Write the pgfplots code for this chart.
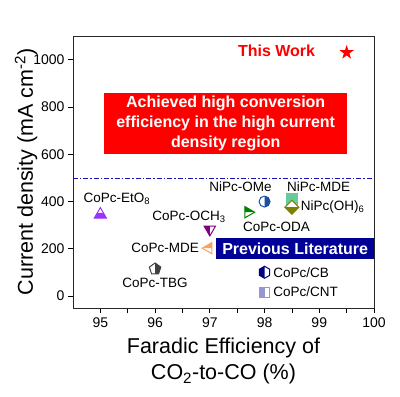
\documentclass[border=0pt]{standalone}
\usepackage{fontspec}
\setmainfont{Liberation Sans}
\usepackage{pgfplots}
\pgfplotsset{compat=1.18}

\definecolor{cEtO}{RGB}{153,51,255}
\definecolor{cOCH}{RGB}{128,0,128}
\definecolor{cMDE}{RGB}{244,164,96}
\definecolor{cTBG}{RGB}{64,64,64}
\definecolor{cODA}{RGB}{0,128,0}
\definecolor{cOMe}{RGB}{30,80,160}
\definecolor{cNMDE}{RGB}{102,204,153}
\definecolor{cOH}{RGB}{128,128,0}
\definecolor{cCB}{RGB}{0,0,128}
\definecolor{cCNT}{RGB}{150,150,210}
\definecolor{cRed}{RGB}{255,0,0}
\definecolor{cNavy}{RGB}{0,0,150}
\definecolor{cLine}{RGB}{20,20,180}

\newcommand{\mkP}[2]{\pgfqpoint{#1\pgfplotmarksize}{#2\pgfplotmarksize}}
\newcommand{\halfmark}[2]{%
  \begin{pgfscope}\pgfsetfillcolor{white}#1\pgfusepathqfill\end{pgfscope}%
  #2\pgfusepathqfill
  #1\pgfusepathqstroke}

\pgfdeclareplotmark{htriup}{\halfmark
 {\pgfpathmoveto{\mkP{0}{1}}\pgfpathlineto{\mkP{-0.866}{-0.5}}\pgfpathlineto{\mkP{0.866}{-0.5}}\pgfpathclose}
 {\pgfpathmoveto{\mkP{-0.866}{-0.5}}\pgfpathlineto{\mkP{0.866}{-0.5}}\pgfpathlineto{\mkP{0.433}{0.25}}\pgfpathlineto{\mkP{-0.433}{0.25}}\pgfpathclose}}
\pgfdeclareplotmark{htridown}{\halfmark
 {\pgfpathmoveto{\mkP{0}{-1}}\pgfpathlineto{\mkP{-0.866}{0.5}}\pgfpathlineto{\mkP{0.866}{0.5}}\pgfpathclose}
 {\pgfpathmoveto{\mkP{0}{-1}}\pgfpathlineto{\mkP{-0.866}{0.5}}\pgfpathlineto{\mkP{0}{0.5}}\pgfpathclose}}
\pgfdeclareplotmark{htrileft}{\halfmark
 {\pgfpathmoveto{\mkP{-1}{0}}\pgfpathlineto{\mkP{0.5}{0.866}}\pgfpathlineto{\mkP{0.5}{-0.866}}\pgfpathclose}
 {\pgfpathmoveto{\mkP{-1}{0}}\pgfpathlineto{\mkP{0.5}{0.866}}\pgfpathlineto{\mkP{0.5}{0}}\pgfpathclose}}
\pgfdeclareplotmark{htriright}{\halfmark
 {\pgfpathmoveto{\mkP{1}{0}}\pgfpathlineto{\mkP{-0.5}{0.866}}\pgfpathlineto{\mkP{-0.5}{-0.866}}\pgfpathclose}
 {\pgfpathmoveto{\mkP{1}{0}}\pgfpathlineto{\mkP{-0.5}{0.866}}\pgfpathlineto{\mkP{-0.5}{0}}\pgfpathclose}}
\pgfdeclareplotmark{hpent}{\halfmark
 {\pgfpathmoveto{\mkP{0}{1}}\pgfpathlineto{\mkP{-0.951}{0.309}}\pgfpathlineto{\mkP{-0.588}{-0.809}}\pgfpathlineto{\mkP{0.588}{-0.809}}\pgfpathlineto{\mkP{0.951}{0.309}}\pgfpathclose}
 {\pgfpathmoveto{\mkP{0}{1}}\pgfpathlineto{\mkP{0}{-0.809}}\pgfpathlineto{\mkP{0.588}{-0.809}}\pgfpathlineto{\mkP{0.951}{0.309}}\pgfpathclose}}
\pgfdeclareplotmark{hcirc}{\halfmark
 {\pgfpathcircle{\pgfpointorigin}{\pgfplotmarksize}}
 {\pgfpathmoveto{\mkP{0}{1}}\pgfpatharc{90}{-90}{\pgfplotmarksize}\pgfpathclose}}
\pgfdeclareplotmark{hdiam}{\halfmark
 {\pgfpathmoveto{\mkP{0}{1}}\pgfpathlineto{\mkP{-1}{0}}\pgfpathlineto{\mkP{0}{-1}}\pgfpathlineto{\mkP{1}{0}}\pgfpathclose}
 {\pgfpathmoveto{\mkP{-1}{0}}\pgfpathlineto{\mkP{0}{-1}}\pgfpathlineto{\mkP{1}{0}}\pgfpathclose}}
\pgfdeclareplotmark{hhex}{\halfmark
 {\pgfpathmoveto{\mkP{0.866}{0.5}}\pgfpathlineto{\mkP{0}{1}}\pgfpathlineto{\mkP{-0.866}{0.5}}\pgfpathlineto{\mkP{-0.866}{-0.5}}\pgfpathlineto{\mkP{0}{-1}}\pgfpathlineto{\mkP{0.866}{-0.5}}\pgfpathclose}
 {\pgfpathmoveto{\mkP{0}{1}}\pgfpathlineto{\mkP{-0.866}{0.5}}\pgfpathlineto{\mkP{-0.866}{-0.5}}\pgfpathlineto{\mkP{0}{-1}}\pgfpathclose}}
\pgfdeclareplotmark{hsqleft}{\halfmark
 {\pgfpathmoveto{\mkP{-1}{-1}}\pgfpathlineto{\mkP{1}{-1}}\pgfpathlineto{\mkP{1}{1}}\pgfpathlineto{\mkP{-1}{1}}\pgfpathclose}
 {\pgfpathmoveto{\mkP{-1}{-1}}\pgfpathlineto{\mkP{0}{-1}}\pgfpathlineto{\mkP{0}{1}}\pgfpathlineto{\mkP{-1}{1}}\pgfpathclose}}
\pgfdeclareplotmark{fstar}{%
 \pgfpathmoveto{\mkP{0}{1}}\pgfpathlineto{\mkP{-0.2245}{0.309}}\pgfpathlineto{\mkP{-0.951}{0.309}}%
 \pgfpathlineto{\mkP{-0.363}{-0.118}}\pgfpathlineto{\mkP{-0.588}{-0.809}}\pgfpathlineto{\mkP{0}{-0.382}}%
 \pgfpathlineto{\mkP{0.588}{-0.809}}\pgfpathlineto{\mkP{0.363}{-0.118}}\pgfpathlineto{\mkP{0.951}{0.309}}%
 \pgfpathlineto{\mkP{0.2245}{0.309}}\pgfpathclose\pgfusepathqfill}

\begin{document}
\begin{tikzpicture}
\begin{axis}[
  scale only axis,
  width=301pt, height=272pt,
  xmin=94.5, xmax=100, ymin=-50, ymax=1100,
  xtick={95,96,97,98,99,100},
  minor xtick={95.5,96.5,97.5,98.5,99.5},
  ytick={0,200,400,600,800,1000},
  tick align=outside,
  xtick pos=left, ytick pos=left,
  major tick length=5pt, minor tick length=5pt,
  every tick/.style={black, line width=0.8pt},
  axis line style={line width=0.8pt, black!85},
  /pgf/number format/assume math mode=true,
  /pgf/number format/1000 sep={},
  tick label style={font=\fontsize{14}{16}\selectfont},
  xticklabel style={yshift=-1pt},
  xlabel={Faradic Efficiency of\\CO\textsubscript{2}-to-CO (\%)},
  ylabel={Current density (mA cm\textsuperscript{-2})},
  x label style={at={(axis description cs:0.5,0)}, anchor=north, inner sep=0pt, yshift=-30pt, align=center, font=\fontsize{21.5}{26}\selectfont},
  y label style={at={(axis description cs:0,0.5)}, anchor=base, inner sep=0pt, yshift=40pt, font=\fontsize{21.5}{24}\selectfont},
  clip=false,
]
% boxes
\fill[cRed] (axis cs:95.07,600) rectangle (axis cs:99.5,858);
\node[text=white, font=\bfseries\fontsize{16}{20}\selectfont, align=center] at (axis cs:97.29,729) {Achieved high conversion\\efficiency in the high current\\density region};
\fill[cNavy] (axis cs:97.12,156) rectangle (axis cs:100,245);
\node[text=white, font=\bfseries\fontsize{16}{19}\selectfont] at (axis cs:98.56,201) {Previous Literature};
% dash-dot line
\addplot[cLine, line width=0.8pt, dash pattern=on 5pt off 2pt on 1.5pt off 2pt] coordinates {(94.5,500) (100,500)};
% markers
\addplot[only marks, mark=htriup, mark size=7pt, color=cEtO, line width=1pt] coordinates {(95,345)};
\addplot[only marks, mark=htridown, mark size=6.5pt, color=cOCH, line width=1pt] coordinates {(97,282)};
\addplot[only marks, mark=htrileft, mark size=6.5pt, color=cMDE, line width=1pt] coordinates {(96.98,203)};
\addplot[only marks, mark=hpent, mark size=6pt, color=cTBG, line width=1pt] coordinates {(96,115)};
\addplot[only marks, mark=htriright, mark size=6.5pt, color=cODA, line width=1pt] coordinates {(97.7,355)};
\addplot[only marks, mark=hcirc, mark size=5.5pt, color=cOMe, line width=1pt] coordinates {(98,400)};
\addplot[only marks, mark=square*, mark size=5.5pt, color=cNMDE, line width=1pt] coordinates {(98.5,410)};
\addplot[only marks, mark=hdiam, mark size=7pt, color=cOH, line width=1pt] coordinates {(98.5,376)};
\addplot[only marks, mark=hhex, mark size=6pt, color=cCB, line width=1pt] coordinates {(98,101)};
\addplot[only marks, mark=hsqleft, mark size=5pt, color=cCNT, line width=1pt] coordinates {(98,17)};
\addplot[only marks, mark=fstar, mark size=7.5pt, color=cRed] coordinates {(99.5,1030)};
% labels
\begin{scope}[font=\fontsize{13.5}{15}\selectfont]
\node at (axis cs:95.3,410) {CoPc-EtO\textsubscript{8}};
\node at (axis cs:97.56,461) {NiPc-OMe};
\node at (axis cs:98.99,461) {NiPc-MDE};
\node[anchor=west, inner sep=1pt] at (axis cs:98.64,376) {NiPc(OH)\textsubscript{6}};
\node at (axis cs:96.62,334) {CoPc-OCH\textsubscript{3}};
\node at (axis cs:98.22,292) {CoPc-ODA};
\node[anchor=east, inner sep=1pt] at (axis cs:96.82,203) {CoPc-MDE};
\node at (axis cs:96.0,55) {CoPc-TBG};
\node[anchor=west, inner sep=1pt] at (axis cs:98.14,101) {CoPc/CB};
\node[anchor=west, inner sep=1pt] at (axis cs:98.14,17) {CoPc/CNT};
\end{scope}
\node[text=cRed, font=\bfseries\fontsize{16}{19}\selectfont] at (axis cs:98.22,1036) {This Work};
\coordinate (sw) at (rel axis cs:0,0);
\end{axis}
\pgfresetboundingbox
\path[use as bounding box] (sw) ++(-73pt,-89pt) rectangle ++(400pt,397pt);
\end{tikzpicture}
\end{document}
